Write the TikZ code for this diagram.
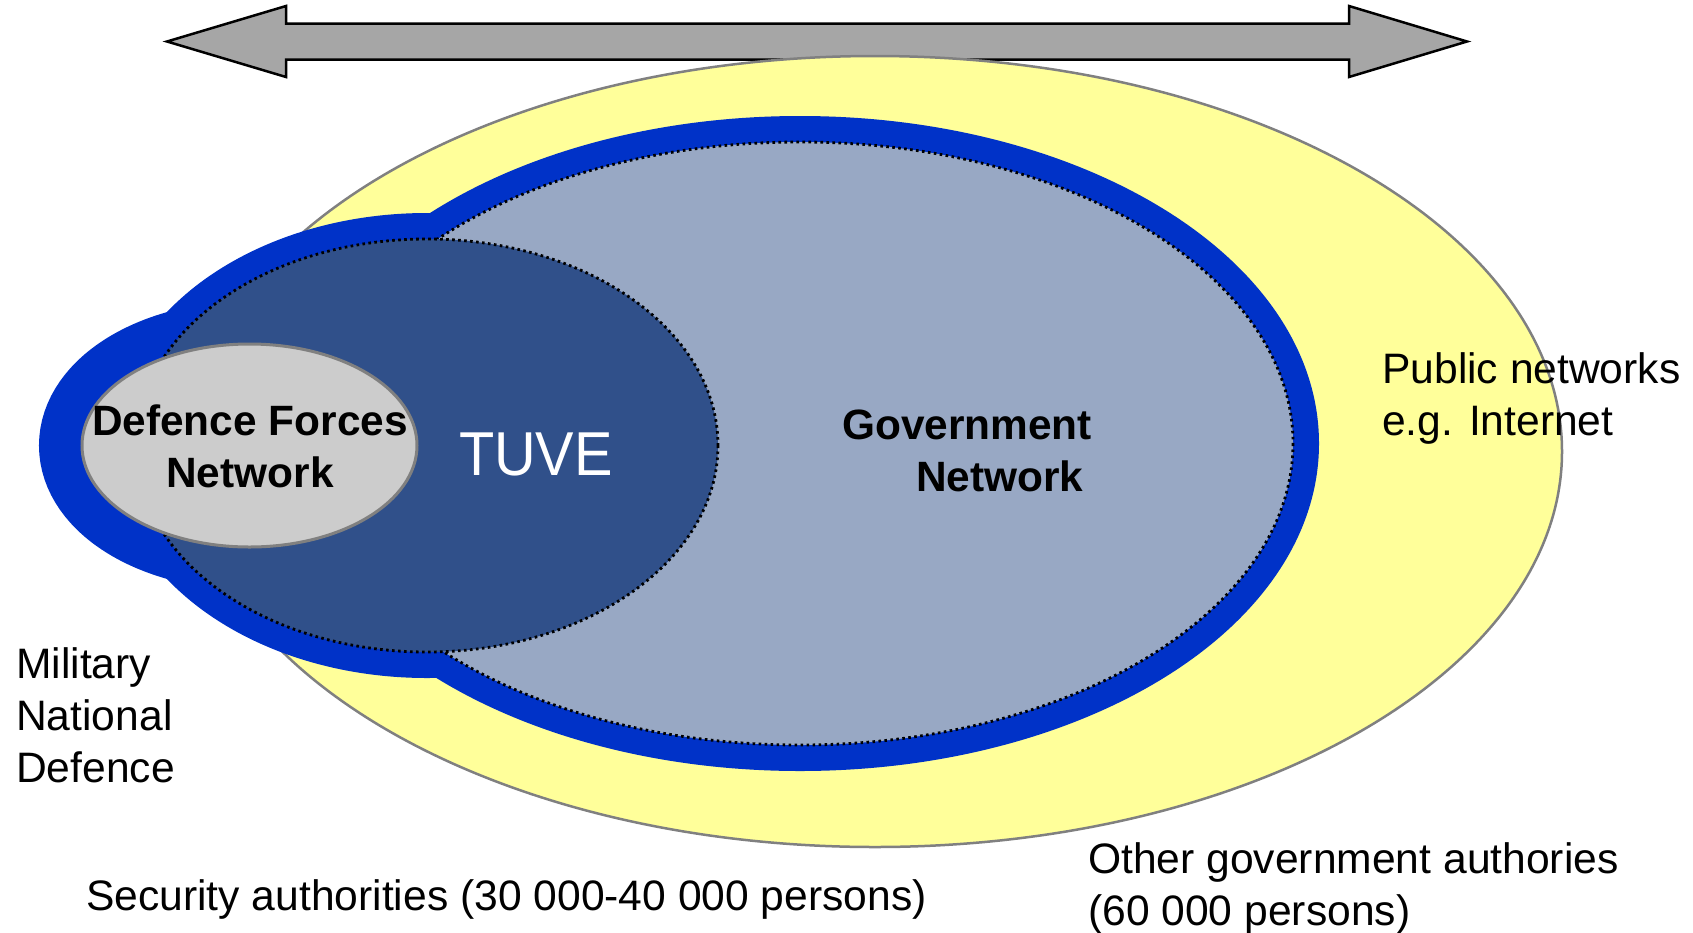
\documentclass[tikz,border=0pt]{standalone}
\usepackage{fontspec}
\setmainfont{Liberation Sans}
\definecolor{ringblue}{HTML}{0032C8}
\definecolor{tuvefill}{HTML}{30508A}
\definecolor{govfill}{HTML}{98A8C4}
\definecolor{deffill}{HTML}{CCCCCC}
\definecolor{pubfill}{HTML}{FFFF9A}
\definecolor{edgegray}{HTML}{808080}
\definecolor{arrowgray}{HTML}{A6A6A6}
\begin{document}
\begin{tikzpicture}[x=1pt,y=-1pt,
  bluering/.style={draw=ringblue, line width=#1},
  dotborder/.style={draw=black, line width=2.8pt, dash pattern=on 2.6pt off 3.4pt},
  lbl/.style={inner sep=0pt, font=\fontsize{42.6}{52}\selectfont},
  blbl/.style={inner sep=0pt, font=\fontsize{42.4}{52}\selectfont\bfseries}]
\useasboundingbox (0,0) rectangle (1693,932);
% double arrow
\draw[fill=arrowgray, line width=2.5pt, line join=miter]
  (167,41.5) -- (286,6) -- (286,23.5) -- (1349,23.5) -- (1349,6) -- (1467,41.5)
  -- (1349,77) -- (1349,59.5) -- (286,59.5) -- (286,77) -- cycle;
% public networks (yellow)
\draw[fill=pubfill, draw=edgegray, line width=2.5pt] (875,451.5) ellipse (687 and 395.5);
% blue rings
\draw[bluering=52pt] (800,443.5) ellipse (493 and 301.5);
\draw[bluering=52pt] (427,445.5) ellipse (291 and 206.5);
\draw[bluering=86pt] (249.5,445.5) ellipse (167.5 and 101.5);
% government network
\fill[govfill] (800,443.5) ellipse (493 and 301.5);
\draw[dotborder] (800,443.5) ellipse (493 and 301.5);
% TUVE
\fill[tuvefill] (427,445.5) ellipse (291 and 206.5);
\draw[dotborder] (427,445.5) ellipse (291 and 206.5);
% defence forces network
\draw[fill=deffill, draw=edgegray, line width=3pt] (249.5,445.5) ellipse (167.5 and 101.5);
% labels
\node[blbl, anchor=base] (def) at (250,435)
  {\begin{tabular}[t]{@{}c@{}}Defence Forces\\Network\end{tabular}};
\node[inner sep=0pt, anchor=base, text=white, font=\fontsize{62}{62}\selectfont] (tuve) at (536,475)
  {\scalebox{0.93}[1]{TUVE}};
\node[blbl, anchor=base west] (gov) at (842,439)
  {\begin{tabular}[t]{@{}l@{}}Government\\\hspace*{74pt}Network\end{tabular}};
\node[lbl, anchor=base west] (pub) at (1382,383)
  {\begin{tabular}[t]{@{}l@{}}Public networks\\e.g. Internet\end{tabular}};
\node[lbl, anchor=base west] (mil) at (16,678)
  {\begin{tabular}[t]{@{}l@{}}Military\\National\\Defence\end{tabular}};
\node[lbl, anchor=base west] (sec) at (86,910)
  {Security authorities (30 000-40 000 persons)};
\node[lbl, anchor=base west] (oth) at (1088,873)
  {\begin{tabular}[t]{@{}l@{}}Other government authories\\(60 000 persons)\end{tabular}};
\end{tikzpicture}
\end{document}
